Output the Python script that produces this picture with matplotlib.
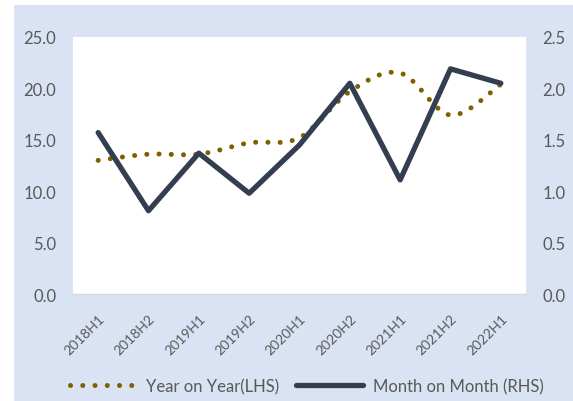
import matplotlib
matplotlib.use("Agg")
import matplotlib.pyplot as plt
import numpy as np
from matplotlib.path import Path
from matplotlib.patches import PathPatch, Rectangle
from matplotlib.lines import Line2D
import matplotlib.transforms as mtransforms

categories = ["2018H1", "2018H2", "2019H1", "2019H2", "2020H1",
              "2020H2", "2021H1", "2021H2", "2022H1"]
yoy = [13.0, 13.6, 13.6, 14.7, 15.2, 19.7, 21.5, 17.4, 20.4]
mom = [1.57, 0.81, 1.37, 0.98, 1.45, 2.05, 1.11, 2.19, 2.05]
left_ticks = [0.0, 5.0, 10.0, 15.0, 20.0, 25.0]
right_ticks = [0.0, 0.5, 1.0, 1.5, 2.0, 2.5]

BG = "#DAE3F3"
GOLD = "#7F6000"
NAVY = "#333F50"
TXT = "#595959"
FONT = "Lato"

W, H = 573, 402
fig = plt.figure(figsize=(W / 100, H / 100), dpi=100)
fig.patch.set_facecolor("white")
fig.patches.append(Rectangle((14 / W, 0), 1 - 14 / W, (H - 6) / H,
                             transform=fig.transFigure, facecolor=BG,
                             edgecolor="none", zorder=-10))

ax = fig.add_axes([73 / W, 1 - 295 / H, 453 / W, 257 / H])
ax.set_facecolor("white")
x = np.arange(len(categories))
ax.set_xlim(-0.5, len(categories) - 0.5)
ax.set_ylim(0, 25)

# smoothed (Excel-style) curve for YoY through the data points
pts = np.column_stack([x, yoy]).astype(float)
verts = [tuple(pts[0])]
codes = [Path.MOVETO]
n = len(pts)
for i in range(n - 1):
    p0 = pts[i - 1] if i > 0 else pts[i]
    p1 = pts[i]
    p2 = pts[i + 1]
    p3 = pts[i + 2] if i + 2 < n else pts[i + 1]
    c1 = p1 + (p2 - p0) / 6.0
    c2 = p2 - (p3 - p1) / 6.0
    verts += [tuple(c1), tuple(c2), tuple(p2)]
    codes += [Path.CURVE4] * 3
patch = PathPatch(Path(verts, codes), fill=False, edgecolor=GOLD,
                  linewidth=3.6, linestyle=(0, (0.01, 2.44)),
                  capstyle="round", zorder=3)
ax.add_patch(patch)

ax.set_yticks(left_ticks)
ax.set_yticklabels([f"{v:.1f}" for v in left_ticks], fontsize=12,
                   color=TXT, fontfamily=FONT)
ax.set_xticks(x)
ax.set_xticklabels(categories, fontsize=10, color=TXT, fontfamily=FONT,
                   rotation=45, ha="right", va="top", rotation_mode="anchor")
offset = mtransforms.ScaledTranslation(6 / 100, 0, fig.dpi_scale_trans)
for lab in ax.get_xticklabels():
    lab.set_transform(lab.get_transform() + offset)
ax.tick_params(axis="x", length=0, pad=13)
ax.tick_params(axis="y", length=0, pad=12)
for s in ["top", "left", "right"]:
    ax.spines[s].set_visible(False)
ax.spines["bottom"].set_color("#D9D9D9")
ax.spines["bottom"].set_linewidth(1.0)

ax2 = ax.twinx()
ax2.set_ylim(0, 2.5)
ax2.plot(x, mom, color=NAVY, linewidth=3.8, solid_joinstyle="round",
         solid_capstyle="round", zorder=4)
ax2.set_yticks(right_ticks)
ax2.set_yticklabels([f"{v:.1f}" for v in right_ticks], fontsize=12,
                    color=TXT, fontfamily=FONT)
ax2.tick_params(axis="y", length=0, pad=12)
for s in ["top", "left", "right", "bottom"]:
    ax2.spines[s].set_visible(False)

handles = [Line2D([], [], color=GOLD, linewidth=3.6,
                  linestyle=(0, (0.01, 2.44)), dash_capstyle="round"),
           Line2D([], [], color=NAVY, linewidth=3.8,
                  solid_capstyle="round")]
leg = fig.legend(handles, ["Year on Year(LHS)", "Month on Month (RHS)"],
                 loc="center", bbox_to_anchor=(0.535, 1 - 387 / H),
                 ncol=2, frameon=False, handlelength=4.0,
                 handletextpad=0.6, columnspacing=1.0,
                 prop={"family": FONT, "size": 12})
for t in leg.get_texts():
    t.set_color(TXT)

fig.savefig("out.png", dpi=100)
